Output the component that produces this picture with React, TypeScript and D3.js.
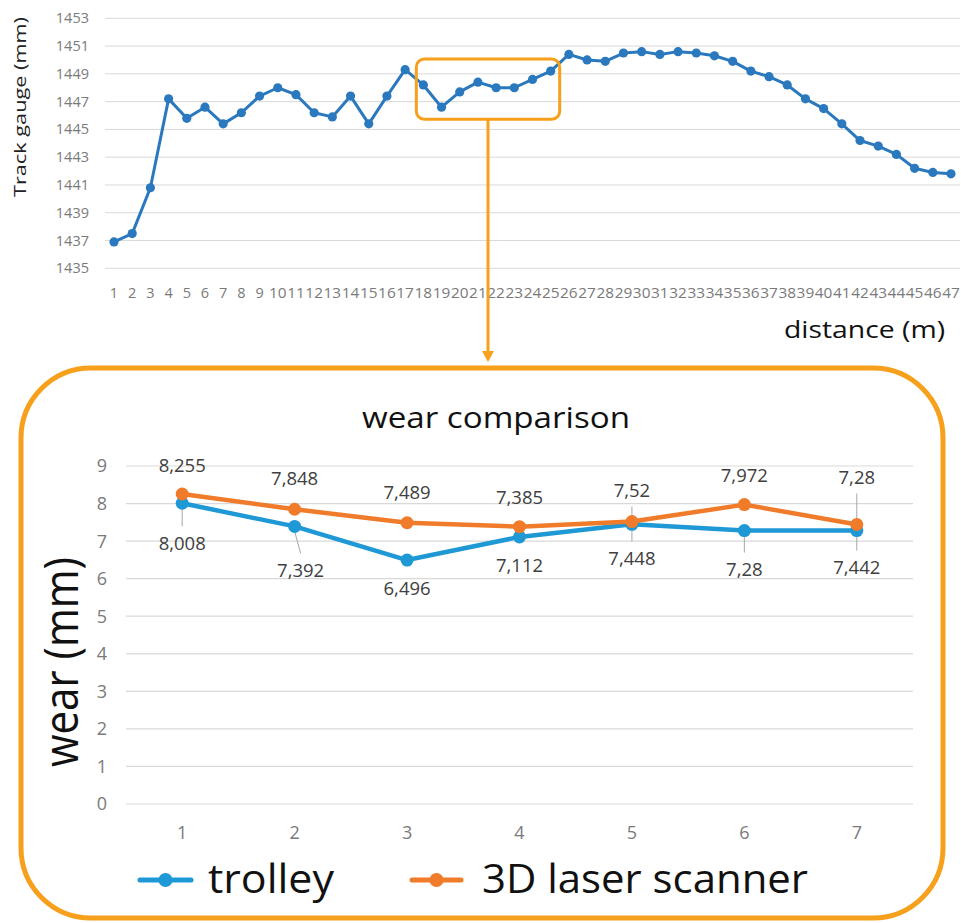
import React from 'react';
import * as d3 from 'd3';

// ---------- DATA ----------
const distances = [1,2,3,4,5,6,7,8,9,10,11,12,13,14,15,16,17,18,19,20,21,22,23,24,25,26,27,28,29,30,31,32,33,34,35,36,37,38,39,40,41,42,43,44,45,46,47];
const gaugeValues = [1436.9,1437.5,1440.8,1447.2,1445.8,1446.6,1445.4,1446.2,1447.4,1448.0,1447.5,1446.2,1445.9,1447.4,1445.4,1447.4,1449.3,1448.2,1446.6,1447.7,1448.4,1448.0,1448.0,1448.6,1449.2,1450.4,1450.0,1449.9,1450.5,1450.6,1450.4,1450.6,1450.5,1450.3,1449.9,1449.2,1448.8,1448.2,1447.2,1446.5,1445.4,1444.2,1443.8,1443.2,1442.2,1441.9,1441.8];
const gaugeTicks = [1435,1437,1439,1441,1443,1445,1447,1449,1451,1453];
const zoomRange = [18, 25];

const samples = ['1','2','3','4','5','6','7'];
const trolley = [8.008,7.392,6.496,7.112,7.448,7.28,7.28];
const laser = [8.255,7.848,7.489,7.385,7.52,7.972,7.442];
const trolleyLabels = ['8,008','7,392','6,496','7,112','7,448','7,28','7,442'];
const laserLabels = ['8,255','7,848','7,489','7,385','7,52','7,972','7,28'];
const wearTicks = [0,1,2,3,4,5,6,7,8,9];

// ---------- LAYOUT (label nudges, leader lines) ----------
const laserLabelDy = [-29,-31,-30,-29,-31,-29,-47];
const trolleyLabelDy = [40,44,28,28,34,39,37];
const trolleyLabelDx = [0,6,0,0,0,0,0];
const laserLeader = [false,false,false,false,true,false,true];
const trolleyLeader = [true,true,false,false,true,true,true];

const FONT = "'Open Sans', sans-serif";
const ORANGE_FRAME = '#f6a01c';
const BLUE_TOP = '#2a78bd';
const BLUE = '#1f98d6';
const ORANGE = '#f07b2a';
const GRID = '#d9d9d9';
const TICK = '#7a7a7a';

export default function App() {
  // top chart scales
  const xTop = d3.scalePoint<number>().domain(distances).range([114, 951]);
  const yTop = d3.scaleLinear().domain([1435, 1453]).range([268.3, 18.3]);
  const lineTop = d3.line<number>().x((_, i) => xTop(distances[i])!).y(d => yTop(d));

  // highlight box from data
  const inZoom = gaugeValues.filter((_, i) => distances[i] >= zoomRange[0] && distances[i] <= zoomRange[1]);
  const bx0 = xTop(zoomRange[0])! - 7;
  const bx1 = xTop(zoomRange[1])! + 9;
  const by0 = yTop(d3.max(inZoom)!) - 12;
  const by1 = yTop(d3.min(inZoom)!) + 12;
  const arrowX = (bx0 + bx1) / 2;

  // bottom chart scales
  const xB = d3.scaleBand<string>().domain(samples).range([126, 913]);
  const cx = (s: string) => xB(s)! + xB.bandwidth() / 2;
  const yB = d3.scaleLinear().domain([0, 9]).range([804, 466]);
  const lineB = d3.line<number>().x((_, i) => cx(samples[i])).y(d => yB(d));

  return (
    <svg width={961} height={923} style={{ position: 'absolute', left: 0, top: 0, background: '#fff' }} fontFamily={FONT}>
      <rect x={0} y={0} width={961} height={923} fill="#fff" />
      {/* ---------- TOP CHART ---------- */}
      {gaugeTicks.map(t => (
        <g key={'gt' + t}>
          <line x1={105} x2={960} y1={yTop(t)} y2={yTop(t)} stroke={GRID} strokeWidth={1} />
          <text x={89} y={yTop(t)} dy="0.35em" textAnchor="end" fontSize={14.5} fill={TICK}>{t}</text>
        </g>
      ))}
      {distances.map(d => (
        <text key={'dx' + d} x={xTop(d)} y={298} textAnchor="middle" fontSize={14.5} fill={TICK}
          textLength={d >= 10 ? 17.6 : undefined} lengthAdjust="spacingAndGlyphs">{d}</text>
      ))}
      <text transform="translate(26,107) rotate(-90)" textAnchor="middle" fontSize={15.5} fill="#222"
        textLength={180} lengthAdjust="spacingAndGlyphs">Track gauge (mm)</text>
      <text x={945} y={338} textAnchor="end" fontSize={24} fill="#111"
        textLength={161} lengthAdjust="spacingAndGlyphs">distance (m)</text>
      <path d={lineTop(gaugeValues)!} fill="none" stroke={BLUE_TOP} strokeWidth={3} strokeLinejoin="round" />
      {gaugeValues.map((v, i) => (
        <circle key={'gp' + i} cx={xTop(distances[i])} cy={yTop(v)} r={4.6} fill={BLUE_TOP} />
      ))}

      {/* highlight + arrow */}
      <rect x={bx0} y={by0} width={bx1 - bx0} height={by1 - by0} rx={8} fill="none" stroke={ORANGE_FRAME} strokeWidth={3} />
      <line x1={arrowX} x2={arrowX} y1={by1} y2={353} stroke={ORANGE_FRAME} strokeWidth={3} />
      <path d={`M${arrowX - 6},351 L${arrowX + 6},351 L${arrowX},362 Z`} fill={ORANGE_FRAME} />

      {/* ---------- BOTTOM FRAME ---------- */}
      <rect x={21} y={368} width={922} height={550} rx={70} fill="none" stroke={ORANGE_FRAME} strokeWidth={5} />
      <text x={496} y={428} textAnchor="middle" fontSize={30} fill="#111"
        textLength={268} lengthAdjust="spacingAndGlyphs">wear comparison</text>

      {wearTicks.map(t => (
        <g key={'wt' + t}>
          <line x1={126} x2={913} y1={yB(t)} y2={yB(t)} stroke={GRID} strokeWidth={1.2} />
          <text x={107} y={yB(t)} dy="0.36em" textAnchor="end" fontSize={18} fill={TICK}>{t}</text>
        </g>
      ))}
      {samples.map(s => (
        <text key={'sx' + s} x={cx(s)} y={833} dy="0.36em" textAnchor="middle" fontSize={18} fill={TICK}>{s}</text>
      ))}
      <text transform="translate(78,662) rotate(-90)" textAnchor="middle" fontSize={48} fill="#111"
        textLength={210} lengthAdjust="spacingAndGlyphs">wear (mm)</text>

      {/* leader lines */}
      {laser.map((v, i) => laserLeader[i] ? (
        <line key={'ll' + i} x1={cx(samples[i])} x2={cx(samples[i])} y1={yB(v) + laserLabelDy[i] + 16} y2={yB(v) - 6}
          stroke="#a6a6a6" strokeWidth={1} />
      ) : null)}
      {trolley.map((v, i) => trolleyLeader[i] ? (
        <line key={'tl' + i} x1={cx(samples[i])} x2={cx(samples[i]) + trolleyLabelDx[i]} y1={yB(v) + 5}
          y2={yB(v) + trolleyLabelDy[i] - 17} stroke="#a6a6a6" strokeWidth={1} />
      ) : null)}

      {/* series */}
      <path d={lineB(trolley)!} fill="none" stroke={BLUE} strokeWidth={4.5} strokeLinejoin="round" />
      {trolley.map((v, i) => <circle key={'tp' + i} cx={cx(samples[i])} cy={yB(v)} r={6.5} fill={BLUE} />)}
      <path d={lineB(laser)!} fill="none" stroke={ORANGE} strokeWidth={4.5} strokeLinejoin="round" />
      {laser.map((v, i) => <circle key={'lp' + i} cx={cx(samples[i])} cy={yB(v)} r={6.5} fill={ORANGE} />)}

      {/* data labels */}
      {laser.map((v, i) => (
        <text key={'lt' + i} x={cx(samples[i])} y={yB(v) + laserLabelDy[i]} dy="0.36em" textAnchor="middle"
          fontSize={18.5} fill="#404040">{laserLabels[i]}</text>
      ))}
      {trolley.map((v, i) => (
        <text key={'tt' + i} x={cx(samples[i]) + trolleyLabelDx[i]} y={yB(v) + trolleyLabelDy[i]} dy="0.36em" textAnchor="middle"
          fontSize={18.5} fill="#404040">{trolleyLabels[i]}</text>
      ))}

      {/* legend */}
      <line x1={140} x2={191} y1={880} y2={880} stroke={BLUE} strokeWidth={5} strokeLinecap="round" />
      <circle cx={165.5} cy={880} r={7} fill={BLUE} />
      <text x={208} y={893} fontSize={40} fill="#111" textLength={126} lengthAdjust="spacingAndGlyphs">trolley</text>
      <line x1={412} x2={461} y1={880} y2={880} stroke={ORANGE} strokeWidth={5} strokeLinecap="round" />
      <circle cx={436.5} cy={880} r={7} fill={ORANGE} />
      <text x={482} y={893} fontSize={40} fill="#111" textLength={326} lengthAdjust="spacingAndGlyphs">3D laser scanner</text>
    </svg>
  );
}
